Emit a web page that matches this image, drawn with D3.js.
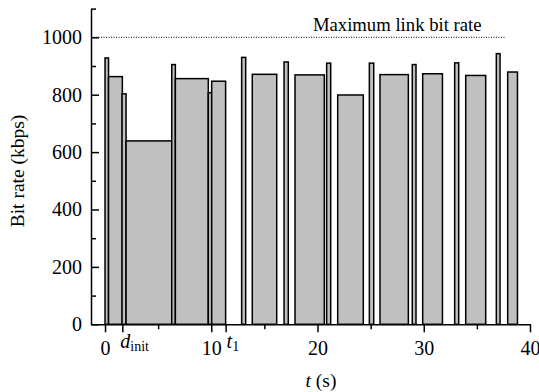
<!DOCTYPE html>
<html>
<head>
<meta charset="utf-8">
<script src="https://cdn.jsdelivr.net/npm/d3@7"></script>
<style>
  body { margin: 0; background: #fff; }
</style>
</head>
<body>
<script>
// segment start / end times (s) and bit rate (kbps)
const segStart = [0, 0.33, 1.60, 1.98, 6.28, 6.62, 9.72, 10.04, 12.86, 13.86, 16.85, 17.88, 20.86, 21.90, 24.88, 25.88, 28.92, 29.90, 32.91, 33.95, 36.83, 37.90];
const segEnd   = [0.33, 1.63, 1.98, 6.28, 6.62, 9.72, 10.04, 11.35, 13.24, 16.16, 17.25, 20.64, 21.24, 24.31, 25.29, 28.55, 29.27, 31.76, 33.29, 35.83, 37.18, 38.82];
const segRate  = [928, 863, 803, 639, 905, 856, 807, 847, 930, 871, 914, 869, 910, 799, 910, 870, 905, 873, 911, 867, 943, 879];

const maxRate = 1000;
const maxRateEnd = 37.7;
const xMajor = [0, 10, 20, 30, 40];
const xMinor = [5, 15, 25, 35];
const yMajor = [0, 200, 400, 600, 800, 1000];
const yMinor = [100, 300, 500, 700, 900, 1100];
const markers = [{t: 1.63, main: "d", sub: "init"}, {t: 11.35, main: "t", sub: "1"}];

const serif = "Liberation Serif";
const width = 539, height = 392;
const svg = d3.select("body").append("svg")
  .attr("width", width)
  .attr("height", height)
  .attr("font-family", serif);

const x = d3.scaleLinear().domain([-1.32, 40]).range([91, 530]);
const y = d3.scaleLinear().domain([0, 1100]).range([324.3, 8.6]);

// bars
svg.append("g").selectAll("rect")
  .data(segRate)
  .join("rect")
  .attr("x", (d, i) => x(segStart[i]))
  .attr("width", (d, i) => x(segEnd[i]) - x(segStart[i]))
  .attr("y", d => y(d))
  .attr("height", d => y(0) - y(d))
  .attr("fill", "#c0c0c0")
  .attr("stroke", "#000")
  .attr("stroke-width", 1.5);

// max link bit rate line
svg.append("line")
  .attr("x1", x(-1.32)).attr("x2", x(maxRateEnd))
  .attr("y1", y(maxRate)).attr("y2", y(maxRate))
  .attr("stroke", "#000")
  .attr("stroke-width", 1)
  .attr("stroke-dasharray", "1,1.5");

svg.append("text")
  .attr("x", x(maxRateEnd) - 24)
  .attr("y", 31)
  .attr("text-anchor", "end")
  .attr("font-family", serif)
  .attr("font-size", 18.7)
  .text("Maximum link bit rate");

// x axis
const gx = svg.append("g").attr("transform", `translate(0,${y(0)})`);
gx.call(d3.axisBottom(x).tickValues(xMajor).tickSize(8).tickSizeOuter(0).tickPadding(9).tickFormat(d3.format("d")));
gx.append("g").call(d3.axisBottom(x).tickValues(xMinor).tickSize(5).tickSizeOuter(0).tickFormat(""))
  .select(".domain").remove();
gx.append("g").call(d3.axisBottom(x).tickValues(markers.map(m => m.t)).tickSize(8).tickSizeOuter(0).tickFormat(""))
  .select(".domain").remove();

// y axis
const gy = svg.append("g").attr("transform", `translate(${x(-1.32)},0)`);
gy.call(d3.axisLeft(y).tickValues(yMajor).tickSize(-8).tickSizeOuter(0).tickPadding(9).tickFormat(d3.format("d")));
gy.append("g").call(d3.axisLeft(y).tickValues(yMinor).tickSize(-5).tickSizeOuter(0).tickFormat(""))
  .select(".domain").remove();

svg.selectAll("g").attr("font-family", serif).attr("font-size", 20);
svg.selectAll(".domain, .tick line").attr("stroke", "#000").attr("stroke-width", 1.5);
svg.selectAll(".tick text").attr("font-family", serif).attr("font-size", 20).attr("fill", "#000");

// d_init and t_1 labels
const ml = svg.append("g").selectAll("text")
  .data(markers)
  .join("text")
  .attr("x", d => x(d.t) + (d.main === "t" ? 1 : -2))
  .attr("y", 348)
  .attr("font-family", serif)
  .attr("font-size", 20);
ml.append("tspan").attr("font-style", "italic").text(d => d.main);
ml.append("tspan").attr("dy", 3).attr("font-size", 14).text(d => d.sub);

// axis titles
const xt = svg.append("text")
  .attr("x", 321)
  .attr("y", 387)
  .attr("text-anchor", "middle")
  .attr("font-family", serif)
  .attr("font-size", 19.5);
xt.append("tspan").attr("font-style", "italic").text("t");
xt.append("tspan").text(" (s)");

svg.append("text")
  .attr("transform", "translate(24,171) rotate(-90)")
  .attr("text-anchor", "middle")
  .attr("font-family", serif)
  .attr("font-size", 19.5)
  .text("Bit rate (kbps)");
</script>
</body>
</html>
